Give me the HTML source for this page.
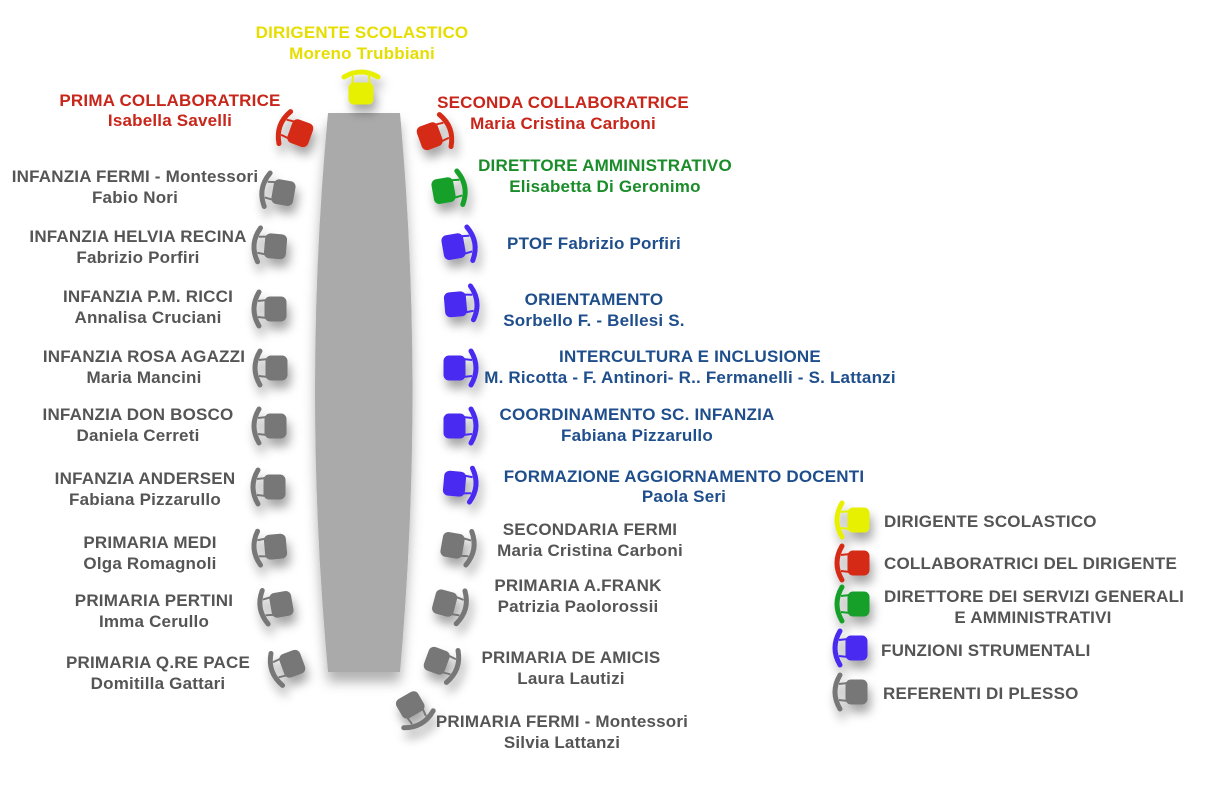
<!DOCTYPE html>
<html><head><meta charset="utf-8"><style>
body{margin:0;background:#fff}
svg{display:block}
text{font-family:"Liberation Sans",sans-serif;font-weight:bold;font-size:17px;letter-spacing:0.2px}
.g{fill:#555}.r{fill:#c8261a}.gr{fill:#1a8c2a}.b{fill:#1f4e8c}.y{fill:#e6de00}
</style></head><body>
<svg width="1220" height="788" viewBox="0 0 1220 788">
<defs>
<filter id="sh" x="-50%" y="-50%" width="200%" height="200%"><feDropShadow dx="3" dy="8" stdDeviation="5" flood-color="#000" flood-opacity="0.35"/></filter>
<filter id="ts" x="-20%" y="-10%" width="140%" height="120%"><feDropShadow dx="0" dy="10" stdDeviation="6" flood-color="#000" flood-opacity="0.3"/></filter>
<g id="ch">
<path d="M-13,-17 Q-23,0 -13,17" fill="none" stroke-width="5" stroke-linecap="round" stroke="inherit"/>
<path d="M-14,-8 L-5,-9 M-14,8 L-5,9" stroke-width="2" fill="none" stroke="inherit"/>
<rect x="-7" y="-12" width="21" height="24" rx="5"/>
</g>
</defs>
<path d="M328,113 L400,113 Q425,390 400,672 L328,672 Q302,390 328,113 Z" fill="#aaa" filter="url(#ts)"/>
<g filter="url(#sh)">
<use href="#ch" transform="translate(361,90) rotate(90)" fill="#e6f000" stroke="#e6f000"/>
<use href="#ch" transform="translate(297,132) rotate(20)" fill="#d42a14" stroke="#d42a14"/>
<use href="#ch" transform="translate(433,135) rotate(160)" fill="#d42a14" stroke="#d42a14"/>
<use href="#ch" transform="translate(447,190) rotate(170)" fill="#16a02a" stroke="#16a02a"/>
<g fill="#4a2cf0" stroke="#4a2cf0">
<use href="#ch" transform="translate(457,246) rotate(170)"/>
<use href="#ch" transform="translate(459,304) rotate(175)"/>
<use href="#ch" transform="translate(458,368) rotate(180)"/>
<use href="#ch" transform="translate(458,426) rotate(180)"/>
<use href="#ch" transform="translate(458,484) rotate(185)"/>
</g>
<g fill="#777" stroke="#777">
<use href="#ch" transform="translate(280,192) rotate(10)"/>
<use href="#ch" transform="translate(272,246) rotate(5)"/>
<use href="#ch" transform="translate(272,309) rotate(0)"/>
<use href="#ch" transform="translate(273,368) rotate(0)"/>
<use href="#ch" transform="translate(272,426) rotate(0)"/>
<use href="#ch" transform="translate(271,487) rotate(0)"/>
<use href="#ch" transform="translate(272,547) rotate(-5)"/>
<use href="#ch" transform="translate(278,605) rotate(-10)"/>
<use href="#ch" transform="translate(289,665) rotate(-20)"/>
<use href="#ch" transform="translate(456,546) rotate(190)"/>
<use href="#ch" transform="translate(448,604) rotate(195)"/>
<use href="#ch" transform="translate(440,662) rotate(200)"/>
<use href="#ch" transform="translate(412,708) rotate(-120)"/>
</g>
<use href="#ch" transform="translate(855,520)" fill="#e6f000" stroke="#e6f000"/>
<use href="#ch" transform="translate(855,563)" fill="#d42a14" stroke="#d42a14"/>
<use href="#ch" transform="translate(855,604)" fill="#16a02a" stroke="#16a02a"/>
<use href="#ch" transform="translate(853,648)" fill="#4a2cf0" stroke="#4a2cf0"/>
<use href="#ch" transform="translate(853,692)" fill="#777" stroke="#777"/>
</g>
<g text-anchor="middle">
<text class="y" x="362" y="38">DIRIGENTE SCOLASTICO</text><text class="y" x="362" y="59">Moreno Trubbiani</text>
<text class="r" x="170" y="106">PRIMA COLLABORATRICE</text><text class="r" x="170" y="126">Isabella Savelli</text>
<text class="r" x="563" y="108">SECONDA COLLABORATRICE</text><text class="r" x="563" y="129">Maria Cristina Carboni</text>
<text class="gr" x="605" y="171">DIRETTORE AMMINISTRATIVO</text><text class="gr" x="605" y="192">Elisabetta Di Geronimo</text>
<text class="b" x="594" y="249">PTOF Fabrizio Porfiri</text>
<text class="b" x="594" y="305">ORIENTAMENTO</text><text class="b" x="594" y="326">Sorbello F. - Bellesi S.</text>
<text class="b" x="690" y="362">INTERCULTURA E INCLUSIONE</text><text class="b" x="690" y="383">M. Ricotta - F. Antinori- R.. Fermanelli - S. Lattanzi</text>
<text class="b" x="637" y="420">COORDINAMENTO SC. INFANZIA</text><text class="b" x="637" y="441">Fabiana Pizzarullo</text>
<text class="b" x="684" y="482">FORMAZIONE AGGIORNAMENTO DOCENTI</text><text class="b" x="684" y="502">Paola Seri</text>
<text class="g" x="590" y="535">SECONDARIA FERMI</text><text class="g" x="590" y="556">Maria Cristina Carboni</text>
<text class="g" x="578" y="591">PRIMARIA A.FRANK</text><text class="g" x="578" y="612">Patrizia Paolorossii</text>
<text class="g" x="571" y="663">PRIMARIA DE AMICIS</text><text class="g" x="571" y="684">Laura Lautizi</text>
<text class="g" x="562" y="727">PRIMARIA FERMI - Montessori</text><text class="g" x="562" y="748">Silvia Lattanzi</text>
<text class="g" x="135" y="182">INFANZIA FERMI - Montessori</text><text class="g" x="135" y="203">Fabio Nori</text>
<text class="g" x="138" y="242">INFANZIA HELVIA RECINA</text><text class="g" x="138" y="263">Fabrizio Porfiri</text>
<text class="g" x="148" y="302">INFANZIA P.M. RICCI</text><text class="g" x="148" y="323">Annalisa Cruciani</text>
<text class="g" x="144" y="362">INFANZIA ROSA AGAZZI</text><text class="g" x="144" y="383">Maria Mancini</text>
<text class="g" x="138" y="420">INFANZIA DON BOSCO</text><text class="g" x="138" y="441">Daniela Cerreti</text>
<text class="g" x="145" y="484">INFANZIA ANDERSEN</text><text class="g" x="145" y="505">Fabiana Pizzarullo</text>
<text class="g" x="150" y="548">PRIMARIA MEDI</text><text class="g" x="150" y="569">Olga Romagnoli</text>
<text class="g" x="154" y="606">PRIMARIA PERTINI</text><text class="g" x="154" y="627">Imma Cerullo</text>
<text class="g" x="158" y="668">PRIMARIA Q.RE PACE</text><text class="g" x="158" y="689">Domitilla Gattari</text>
<text class="g" x="1033" y="623">E AMMINISTRATIVI</text>
</g>
<text class="g" x="884" y="527">DIRIGENTE SCOLASTICO</text>
<text class="g" x="884" y="569">COLLABORATRICI DEL DIRIGENTE</text>
<text class="g" x="884" y="602">DIRETTORE DEI SERVIZI GENERALI</text>
<text class="g" x="881" y="656">FUNZIONI STRUMENTALI</text>
<text class="g" x="883" y="699">REFERENTI DI PLESSO</text>
</svg>
</body></html>
